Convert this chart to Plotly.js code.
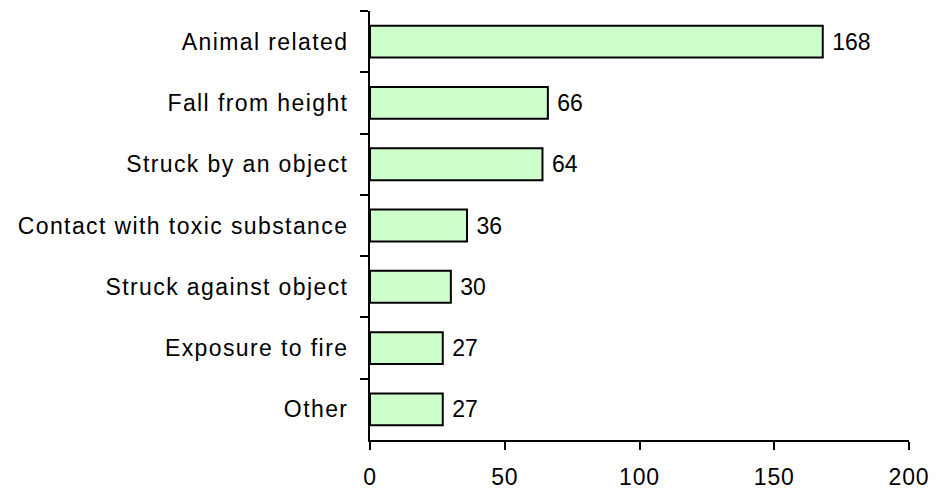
<!DOCTYPE html>
<html>
<head>
<meta charset="utf-8">
<script src="https://cdn.plot.ly/plotly-3.0.1.min.js"></script>
<style>
html,body{margin:0;padding:0;background:#fff;}
#chart{width:942px;height:491px;}
#chart .ytick text{letter-spacing:1.4px;}
#chart .xtick text{letter-spacing:0.8px;}
</style>
</head>
<body>
<div id="chart"></div>
<script>
const categories = ["Animal related", "Fall from height", "Struck by an object", "Contact with toxic substance", "Struck against object", "Exposure to fire", "Other"];
const values = [168, 66, 64, 36, 30, 27, 27];
const xTicks = [0, 50, 100, 150, 200];

const font = {family: "Liberation Sans, Arial, sans-serif", size: 23, color: "#000"};

Plotly.newPlot("chart", [{
  type: "bar",
  orientation: "h",
  y: categories,
  x: values,
  text: values.map(v => "\u00A0" + v),
  textposition: "outside",
  textfont: font,
  cliponaxis: false,
  marker: {color: "#CCFFCC", line: {color: "#000", width: 2}},
  hoverinfo: "none"
}], {
  width: 942, height: 491,
  margin: {l: 370, r: 33, t: 11, b: 51},
  paper_bgcolor: "#fff", plot_bgcolor: "#fff",
  bargap: 0.48,
  showlegend: false,
  font: font,
  xaxis: {
    range: [0, 200], tickvals: xTicks, ticktext: xTicks.map(String),
    showgrid: false, zeroline: false, showline: true, linecolor: "#000", linewidth: 2,
    ticks: "outside", ticklen: 8, tickwidth: 2, tickcolor: "#000", tickfont: font,
    ticklabelstandoff: 7
  },
  yaxis: {
    type: "category", autorange: "reversed",
    showgrid: false, zeroline: false, showline: true, linecolor: "#000", linewidth: 2,
    ticks: "outside", tickson: "boundaries", ticklen: 8, tickwidth: 2, tickcolor: "#000", tickfont: font,
    ticklabelstandoff: 15
  }
}, {displayModeBar: false, staticPlot: true});
</script>
</body>
</html>
